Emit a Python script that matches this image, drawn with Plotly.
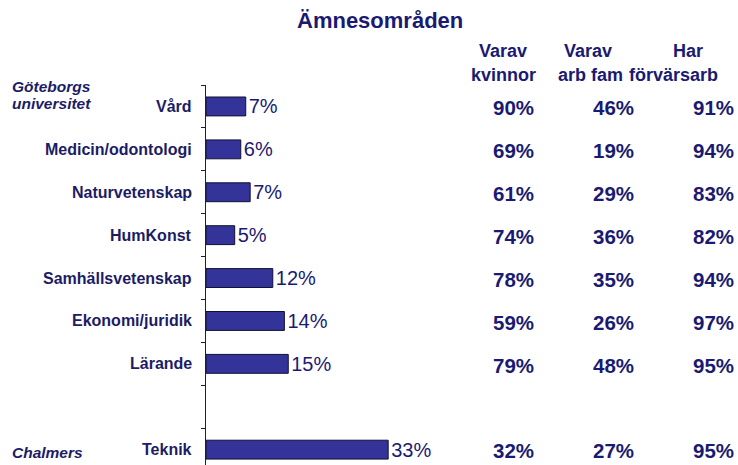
import plotly.graph_objects as go

# ---- data ----
categories = ["Vård", "Medicin/odontologi", "Naturvetenskap", "HumKonst",
              "Samhällsvetenskap", "Ekonomi/juridik", "Lärande", "", "Teknik"]
share = [7.2, 6.3, 8.0, 5.2, 12.1, 14.2, 14.9, None, 33.0]
share_labels = ["7%", "6%", "7%", "5%", "12%", "14%", "15%", "", "33%"]
varav_kvinnor = ["90%", "69%", "61%", "74%", "78%", "59%", "79%", "", "32%"]
varav_arb_fam = ["46%", "19%", "29%", "36%", "35%", "26%", "48%", "", "27%"]
har_forvarsarb = ["91%", "94%", "83%", "82%", "94%", "97%", "95%", "", "95%"]
groups = [("Göteborgs", 86), ("universitet", 103), ("Chalmers", 452)]
col_headers = [("Varav", "kvinnor"), ("Varav", "arb fam"), ("Har", "förvärsarb")]
title = "Ämnesområden"

FONT = "Liberation Sans, Arial, sans-serif"
NAVY = "#1c1c66"
TXT = "#1a1a72"

W, H = 738, 465
L, R, T, B = 206, 0, 85, 0
pw = W - L - R
ph = H - T - B
px_per_pct = 5.52
xmax = pw / px_per_pct
slot = 42.9
ytop = -0.5
ybot = ytop + ph / slot

pos = list(range(len(categories)))


def pxx(px):
    return (px - L) / pw


def pxy(py):
    return 1 - (py - T) / ph


fig = go.Figure()
fig.add_trace(go.Bar(
    x=share, y=pos, orientation="h", width=0.44,
    marker=dict(color="#333399", line=dict(color="#111133", width=1)),
    text=share_labels, textposition="outside", constraintext="none",
    textfont=dict(family=FONT, size=20, color=TXT),
    cliponaxis=False, hoverinfo="skip",
))

ann = []
# category labels
for c, p in zip(categories, pos):
    if c:
        ann.append(dict(x=pxx(194), xref="paper", y=p, yref="y",
                        text=f"<b>{c}</b>", showarrow=False, xanchor="right",
                        yanchor="middle", font=dict(family=FONT, size=16, color=NAVY)))
# group labels
for g, py in groups:
    ann.append(dict(x=pxx(10), xref="paper", y=pxy(py), yref="paper",
                    text=f"<b><i>{g}</i></b>", showarrow=False, xanchor="left",
                    yanchor="middle", align="left",
                    font=dict(family=FONT, size=15.5, color=NAVY)))
# table columns
col_right = [536, 636, 736]
for cols, xr in zip([varav_kvinnor, varav_arb_fam, har_forvarsarb], col_right):
    for v, p in zip(cols, pos):
        if v:
            ann.append(dict(x=pxx(xr), xref="paper", y=p + 0.03, yref="y",
                            text=f"<b>{v}</b>", showarrow=False, xanchor="right",
                            yanchor="middle", font=dict(family=FONT, size=20.5, color=TXT)))
hdr_center1 = [503, 588, 688]
hdr_center2 = [503, 590, 673]
for (h1, h2), c1, c2 in zip(col_headers, hdr_center1, hdr_center2):
    ann.append(dict(x=pxx(c1), xref="paper", y=pxy(51), yref="paper",
                    text=f"<b>{h1}</b>", showarrow=False, xanchor="center", yanchor="middle",
                    font=dict(family=FONT, size=18, color=TXT)))
    ann.append(dict(x=pxx(c2), xref="paper", y=pxy(75), yref="paper",
                    text=f"<b>{h2}</b>", showarrow=False, xanchor="center", yanchor="middle",
                    font=dict(family=FONT, size=18, color=TXT)))
# title
ann.append(dict(x=pxx(380), xref="paper", y=pxy(21), yref="paper",
                text=f"<b>{title}</b>", showarrow=False, xanchor="center", yanchor="middle",
                font=dict(family=FONT, size=22, color=TXT)))

fig.update_layout(
    width=W, height=H, margin=dict(l=L, r=R, t=T, b=B, autoexpand=False),
    paper_bgcolor="white", plot_bgcolor="white",
    showlegend=False, annotations=ann, hovermode=False,
    xaxis=dict(range=[0, xmax], visible=False, fixedrange=True),
    yaxis=dict(range=[ybot, ytop], showgrid=False, zeroline=False,
               showline=True, linecolor="#222222", linewidth=1,
               tickmode="array", tickvals=[i - 0.5 for i in range(len(categories))],
               ticks="outside", ticklen=4, tickcolor="#222222",
               showticklabels=False, fixedrange=True),
)

fig.write_html("out.html", config={"displayModeBar": False},
               post_script="document.body.style.margin='0';")
